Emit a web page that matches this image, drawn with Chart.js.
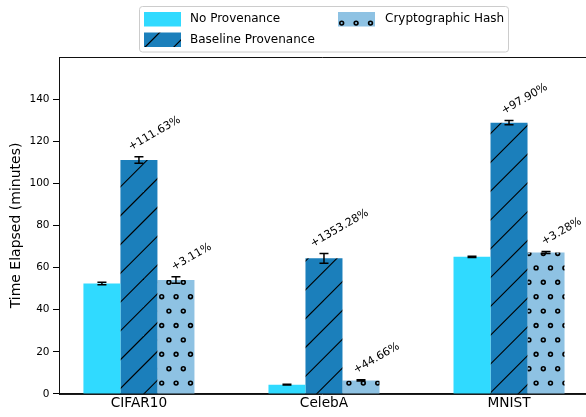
<!DOCTYPE html>
<html><head><meta charset="utf-8">
<script src="https://cdn.jsdelivr.net/npm/chart.js@4"></script>
<style>html,body{margin:0;padding:0;background:#fff;}</style>
</head><body>
<canvas id="c" width="586" height="417"></canvas>
<script>
const categories = ['CIFAR10', 'CelebA', 'MNIST'];
const seriesNames = ['No Provenance', 'Baseline Provenance', 'Cryptographic Hash'];
const noProv = [52.5, 4.43, 65.1];
const baseline = [111.1, 64.4, 128.8];
const cryptoHash = [54.1, 6.4, 67.2];
const noProvErr = [0.6, 0.2, 0.3];
const baselineErr = [1.5, 2.3, 1.0];
const cryptoErr = [1.5, 0.3, 0.5];
const baselineLabels = ['+111.63%', '+1353.28%', '+97.90%'];
const cryptoLabels = ['+3.11%', '+44.66%', '+3.28%'];
const yTicks = [0, 20, 40, 60, 80, 100, 120, 140];

const COL_NO = '#30daff', COL_BASE = '#1b7fbb', COL_CRYPTO = '#8ec2e3';
const FONT = '"DejaVu Sans", sans-serif';

function makeLinePattern(bg) {
  const t = document.createElement('canvas'); t.width = 144; t.height = 144;
  const g = t.getContext('2d');
  g.fillStyle = bg; g.fillRect(0, 0, 144, 144);
  g.strokeStyle = '#000'; g.lineWidth = 1.1;
  for (let k = -2; k <= 11; k++) {
    const d = 19.3 + k * 28.8;
    g.beginPath(); g.moveTo(d + 200, -200); g.lineTo(d - 200, 200); g.stroke();
  }
  return g.createPattern(t, 'repeat');
}
function makeCirclePattern(bg) {
  const t = document.createElement('canvas'); t.width = 144; t.height = 144;
  const g = t.getContext('2d');
  g.fillStyle = bg; g.fillRect(0, 0, 144, 144);
  g.strokeStyle = '#000'; g.lineWidth = 1.6;
  for (let m = -1; m <= 10; m++) {
    const y = 8.7 + m * 14.4;
    const x0 = (m % 2 === 0) ? 3.3 : 10.5;
    for (let n = -1; n <= 11; n++) {
      const x = x0 + n * 14.4;
      g.beginPath(); g.arc(x, y, 1.9, 0, Math.PI * 2); g.stroke();
    }
  }
  return g.createPattern(t, 'repeat');
}
const patBase = makeLinePattern(COL_BASE);
const patCrypto = makeCirclePattern(COL_CRYPTO);
const fills = [COL_NO, patBase, patCrypto];
const errs = [noProvErr, baselineErr, cryptoErr];
const vals = [noProv, baseline, cryptoHash];

const overlay = {
  id: 'overlay',
  afterDatasetsDraw(chart) {
    const ctx = chart.ctx, ys = chart.scales.y, a = chart.chartArea;
    ctx.save();
    ctx.strokeStyle = '#111'; ctx.lineWidth = 1;
    ctx.beginPath();
    ctx.moveTo(a.left + 0.5, a.top + 0.5); ctx.lineTo(a.right, a.top + 0.5);
    ctx.moveTo(a.left + 0.5, a.top); ctx.lineTo(a.left + 0.5, a.bottom + 1);
    ctx.moveTo(a.left, a.bottom + 0.5); ctx.lineTo(a.right, a.bottom + 0.5);
    ctx.stroke();
    ctx.strokeStyle = '#000'; ctx.lineWidth = 1.5;
    for (let d = 0; d < 3; d++) {
      const meta = chart.getDatasetMeta(d);
      meta.data.forEach((bar, i) => {
        const v = vals[d][i], e = errs[d][i];
        const yt = ys.getPixelForValue(v + e), yb = ys.getPixelForValue(v - e);
        ctx.beginPath();
        ctx.moveTo(bar.x, yt); ctx.lineTo(bar.x, yb);
        ctx.moveTo(bar.x - 4.5, yt); ctx.lineTo(bar.x + 4.5, yt);
        ctx.moveTo(bar.x - 4.5, yb); ctx.lineTo(bar.x + 4.5, yb);
        ctx.stroke();
      });
    }
    ctx.fillStyle = '#000';
    ctx.font = '11px ' + FONT;
    const th = Math.PI / 6;
    const drawLabel = (text, bx, topPx) => {
      const w = ctx.measureText(text).width, h = 11;
      const H = w * Math.sin(th) + h * Math.cos(th);
      const cx = bx + 15.5, cy = topPx - 4 - H / 2;
      ctx.save(); ctx.translate(cx, cy); ctx.rotate(-th);
      ctx.textAlign = 'center'; ctx.textBaseline = 'middle';
      ctx.fillText(text, 0, 0); ctx.restore();
    };
    const mb = chart.getDatasetMeta(1), mc = chart.getDatasetMeta(2);
    mb.data.forEach((bar, i) => drawLabel(baselineLabels[i], bar.x, ys.getPixelForValue(baseline[i] + baselineErr[i])));
    mc.data.forEach((bar, i) => drawLabel(cryptoLabels[i], bar.x, ys.getPixelForValue(cryptoHash[i] + cryptoErr[i])));
    ctx.restore();
  },
  afterDraw(chart) {
    const ctx = chart.ctx;
    ctx.save();
    ctx.fillStyle = 'rgba(255,255,255,0.8)';
    ctx.strokeStyle = '#cccccc'; ctx.lineWidth = 1;
    ctx.beginPath();
    ctx.roundRect(139.5, 6.5, 369, 45.5, 3);
    ctx.fill(); ctx.stroke();
    const items = [
      {x: 144, y: 12, tx: 190, ty: 18.8, i: 0},
      {x: 144, y: 32.5, tx: 190, ty: 39.5, i: 1},
      {x: 338, y: 12, tx: 385, ty: 18.8, i: 2}
    ];
    ctx.font = '12px ' + FONT;
    ctx.textBaseline = 'middle'; ctx.textAlign = 'left';
    items.forEach(it => {
      ctx.fillStyle = fills[it.i];
      ctx.fillRect(it.x, it.y, 37, 14.5);
      ctx.fillStyle = '#000';
      ctx.fillText(seriesNames[it.i], it.tx, it.ty);
    });
    ctx.restore();
  }
};

new Chart(document.getElementById('c'), {
  type: 'bar',
  data: {
    datasets: seriesNames.map((name, d) => ({
      label: name,
      data: categories.map((c, i) => ({x: i, y: vals[d][i]})),
      backgroundColor: fills[d],
      borderWidth: 0
    }))
  },
  options: {
    responsive: false,
    animation: false,
    events: [],
    layout: {padding: {left: 0, right: 0, top: 57, bottom: 4.6}},
    datasets: {bar: {categoryPercentage: 0.6, barPercentage: 1.0}},
    plugins: {legend: {display: false}, tooltip: {enabled: false}},
    scales: {
      x: {
        type: 'linear', min: -0.432, max: 2.416, offset: false,
        grid: {drawOnChartArea: false, drawTicks: false},
        border: {display: true, color: '#111', width: 1},
        afterBuildTicks: s => { s.ticks = categories.map((c, i) => ({value: i})); },
        ticks: {
          callback: v => categories[v],
          color: '#000', font: {family: FONT, size: 13.7},
          padding: 1, maxRotation: 0, autoSkip: false
        }
      },
      y: {
        min: 0, max: 160,
        afterBuildTicks: s => { s.ticks = yTicks.map(v => ({value: v})); },
        afterFit: s => { s.width = 59; },
        grid: {drawOnChartArea: false, drawTicks: true, tickLength: 6, tickColor: '#000', tickWidth: 1},
        border: {display: true, color: '#111', width: 1},
        ticks: {color: '#000', font: {family: FONT, size: 10.5}, padding: 3.5},
        title: {display: true, text: 'Time Elapsed (minutes)', color: '#000',
                font: {family: FONT, size: 14}, padding: {top: 8, bottom: 0}}
      }
    }
  },
  plugins: [overlay]
});
</script>
</body></html>
